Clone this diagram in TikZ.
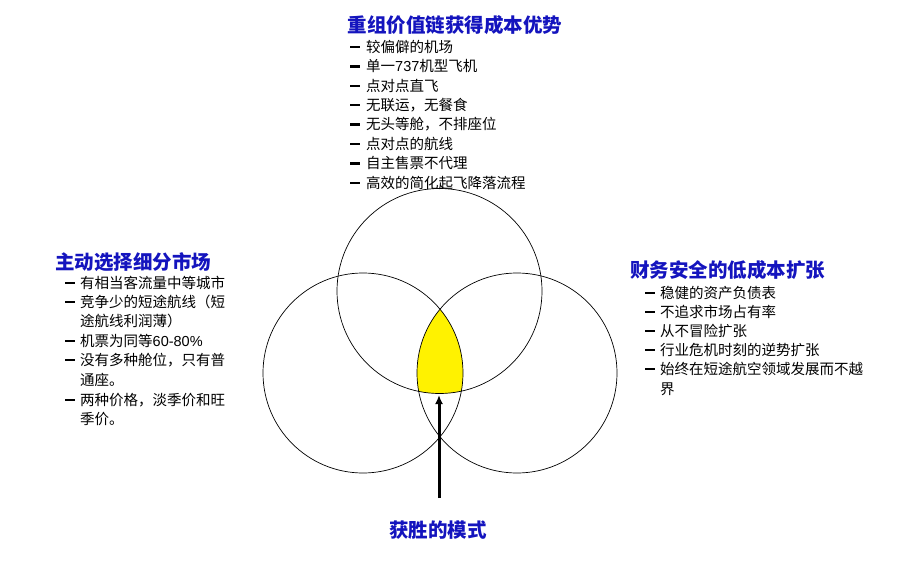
\documentclass[tikz,border=0pt]{standalone}
\usepackage{fontspec}
\usetikzlibrary{arrows.meta}
\setmainfont{Noto Sans CJK SC}
\newfontfamily\latinf{Liberation Sans}
\definecolor{ttl}{RGB}{20,20,190}
\begin{document}
\begin{tikzpicture}[x=1pt,y=-1pt,
  ttlstyle/.style={font=\fontsize{19.5}{19.5}\selectfont\bfseries, text=ttl, inner sep=0},
  item/.style={anchor=west, font=\fontsize{14.5}{14.5}\selectfont, inner sep=0},
  dashmark/.style={anchor=west, inner sep=0},
  circ/.style={draw=black, line width=0.7pt}]
\useasboundingbox (0,0) rectangle (911,560);
\fill[white] (0,0) rectangle (911,560);
% circles
\coordinate (ct) at (439.5,291);
\coordinate (cl) at (363,373);
\coordinate (cr) at (517,373);
\begin{scope}
\clip (ct) circle (102.5);
\clip (cl) circle (100);
\fill[yellow] (cr) circle (100);
\end{scope}
\draw[circ] (ct) circle (102.5);
\draw[circ] (cl) circle (100);
\draw[circ] (cr) circle (100);
% titles
\node[ttlstyle] (tt) at (455,25) {重组价值链获得成本优势};
\node[ttlstyle, anchor=west] (tl) at (55,262) {主动选择细分市场};
\node[ttlstyle, anchor=west] (tr) at (630,270) {财务安全的低成本扩张};
\node[ttlstyle] (tb) at (438,530) {获胜的模式};
% top list
\foreach \t [count=\i] in {较偏僻的机场, 单一{\latinf 737}机型飞机, 点对点直飞, 无联运，无餐食, 无头等舱，不排座位, 点对点的航线, 自主售票不代理, 高效的简化起飞降落流程}{
  \node[dashmark] (td\i) at (350,{47+19.4*(\i-1)}) {\rule{10pt}{2.4pt}};
  \node[item] (ti\i) at (366,{47+19.4*(\i-1)}) {\t};
}
% left list
\node[dashmark] (ld1) at (65,283) {\rule{10pt}{2.4pt}}; \node[item] (li1) at (80,283) {有相当客流量中等城市};
\node[dashmark] (ld2) at (65,302) {\rule{10pt}{2.4pt}}; \node[item] (li2) at (80,302) {竞争少的短途航线（短};
\node[item] (li2b) at (80,321) {途航线利润薄）};
\node[dashmark] (ld3) at (65,341) {\rule{10pt}{2.4pt}}; \node[item] (li3) at (80,341) {机票为同等{\latinf 60-80\%}};
\node[dashmark] (ld4) at (65,360) {\rule{10pt}{2.4pt}}; \node[item] (li4) at (80,360) {没有多种舱位，只有普};
\node[item] (li4b) at (80,380) {通座。};
\node[dashmark] (ld5) at (65,400) {\rule{10pt}{2.4pt}}; \node[item] (li5) at (80,400) {两种价格，淡季价和旺};
\node[item] (li5b) at (80,419) {季价。};
% right list
\node[dashmark] (rd1) at (645,293) {\rule{10pt}{2.4pt}}; \node[item] (ri1) at (660,293) {稳健的资产负债表};
\node[dashmark] (rd2) at (645,312) {\rule{10pt}{2.4pt}}; \node[item] (ri2) at (660,312) {不追求市场占有率};
\node[dashmark] (rd3) at (645,331) {\rule{10pt}{2.4pt}}; \node[item] (ri3) at (660,331) {从不冒险扩张};
\node[dashmark] (rd4) at (645,350) {\rule{10pt}{2.4pt}}; \node[item] (ri4) at (660,350) {行业危机时刻的逆势扩张};
\node[dashmark] (rd5) at (645,369) {\rule{10pt}{2.4pt}}; \node[item] (ri5) at (660,369) {始终在短途航空领域发展而不越};
\node[item] (ri5b) at (660,389) {界};
% arrow
\coordinate (atip) at (439,395);
\coordinate (abase) at (439,498);
\draw[line width=3pt, -{Latex[length=9pt,width=8pt]}] (abase) -- (atip);
\end{tikzpicture}
\end{document}
